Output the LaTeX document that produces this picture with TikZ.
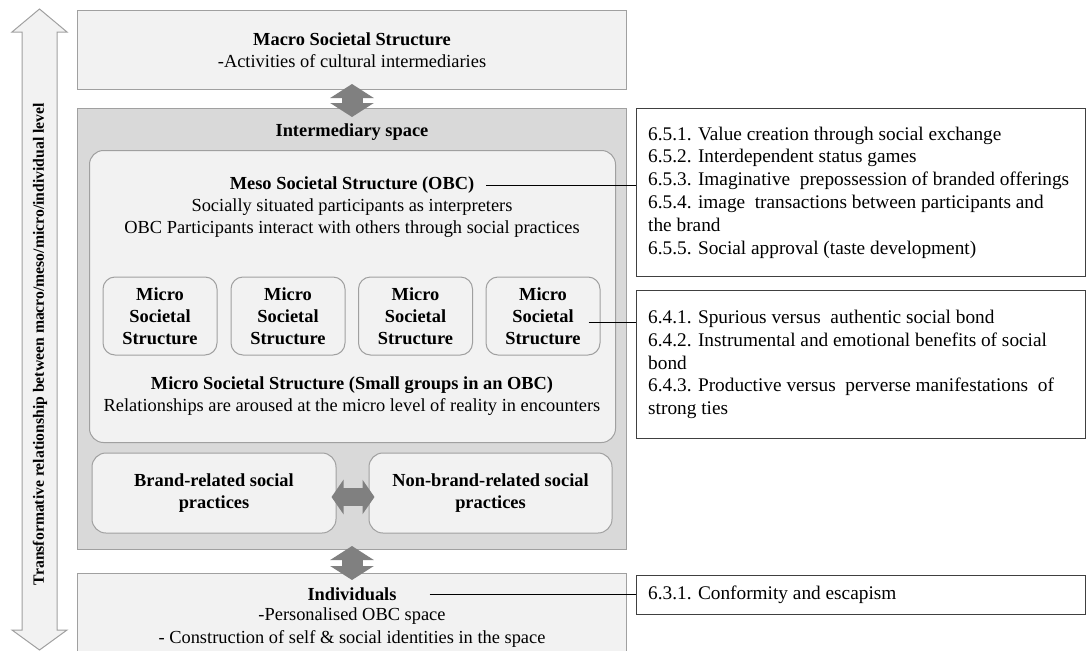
\documentclass[tikz,border=0pt]{standalone}
\usepackage{fontspec}
\setmainfont{Liberation Serif}
\usetikzlibrary{arrows.meta,calc}
\definecolor{lightfill}{HTML}{F2F2F2}
\definecolor{midfill}{HTML}{D9D9D9}
\definecolor{edgegray}{HTML}{A0A0A0}
\definecolor{arrowgray}{HTML}{808080}
\definecolor{darkedge}{HTML}{404040}
\begin{document}
\begin{tikzpicture}[x=1pt,y=-1pt,
  txt/.style={font=\fontsize{18.4}{22.3}\selectfont, align=center, inner sep=0},
  rtext/.style={font=\fontsize{19.3}{22.8}\selectfont, align=left, inner sep=0},
  panel/.style={draw=edgegray, fill=lightfill, line width=1pt, inner sep=0},
  roundpanel/.style={panel, rounded corners=14pt},
  microbox/.style={roundpanel, rounded corners=12pt, minimum width=114, minimum height=78, txt, font=\fontsize{18.4}{22}\selectfont\bfseries},
  rbox/.style={draw=darkedge, fill=white, line width=1pt, inner sep=0, anchor=north west, minimum width=449},
  blockv/.style={draw=arrowgray, fill=arrowgray, line width=21pt, {Triangle[length=14pt,width=43pt]}-{Triangle[length=14pt,width=43pt]}},
  blockh/.style={draw=arrowgray, fill=arrowgray, line width=18pt, {Triangle[length=12pt,width=34pt]}-{Triangle[length=12pt,width=34pt]}},
  conn/.style={draw=black, line width=1pt}]
\useasboundingbox (0,0) rectangle (1088,651);

% left double arrow
\draw[draw=edgegray, fill=lightfill, line width=1pt]
  (39.5,9) -- (67,32) -- (57,32) -- (57,630) -- (67,630) -- (39.5,650)
  -- (12,630) -- (22,630) -- (22,32) -- (12,32) -- cycle;
\node[rotate=90, font=\fontsize{15.7}{18}\selectfont\bfseries, inner sep=0] (side) at (40,344)
  {Transformative relationship between macro/meso/micro/individual level};

% macro box
\node[panel, minimum width=549, minimum height=79, anchor=north west, txt] (macro) at (77,10)
  {\textbf{Macro Societal Structure}\\-Activities of cultural intermediaries};

% intermediary space
\node[panel, fill=midfill, minimum width=549, minimum height=441, anchor=north west] (inter) at (77,108) {};
\node[txt] (intert) at (352,132) {\textbf{Intermediary space}};

% OBC box
\node[roundpanel, minimum width=526, minimum height=292, anchor=north west] (obc) at (89,150) {};
\node[txt] (mesot) at (352,185) {\textbf{Meso Societal Structure (OBC)}};
\node[txt] (mesob) at (352,218) {Socially situated participants as interpreters\\OBC Participants interact with others through social practices};

% micro boxes
\node[microbox] (m1) at (160,316) {Micro\\Societal\\Structure};
\node[microbox] (m2) at (288,316) {Micro\\Societal\\Structure};
\node[microbox] (m3) at (415.5,316) {Micro\\Societal\\Structure};
\node[microbox] (m4) at (543,316) {Micro\\Societal\\Structure};

\node[txt] (microt) at (352,396) {\textbf{Micro Societal Structure (Small groups in an OBC)}\\Relationships are aroused at the micro level of reality in encounters};

% practices
\node[roundpanel, minimum width=244, minimum height=80, txt] (brand) at (214,493)
  {\textbf{Brand-related social}\\\textbf{practices}};
\node[roundpanel, minimum width=243, minimum height=80, txt] (nonbrand) at (490.5,493)
  {\textbf{Non-brand-related social}\\\textbf{practices}};
\draw[blockh, shorten <=-5pt, shorten >=-6pt] ([yshift=-4pt]brand.east) -- ([yshift=-4pt]nonbrand.west);

% individuals
\node[panel, minimum width=549, minimum height=90, anchor=north west] (indiv) at (77,573) {};
\node[txt] (indt) at (352,594) {\textbf{Individuals}};
\node[txt] (indb) at (352,627.5) {-Personalised OBC space\\- Construction of self \& social identities in the space};

% vertical block arrows
\draw[blockv, shorten <=-6pt, shorten >=-9pt] (macro.south) -- (inter.north);
\draw[blockv, shorten <=-4pt, shorten >=-7pt] (inter.south) -- (indiv.north);

% right boxes
\node[rbox, minimum height=168] (boxA) at (636,108) {};
\node[rtext, anchor=west] (textA) at ([xshift=12pt]boxA.west)
  {6.5.1. Value creation through social exchange\\
   6.5.2. Interdependent status games\\
   6.5.3. Imaginative\ \ prepossession of branded offerings\\
   6.5.4. image\ \ transactions between participants and\\
   the brand\\
   6.5.5. Social approval (taste development)};

\node[rbox, minimum height=148] (boxB) at (636,290) {};
\node[rtext, anchor=west] (textB) at ([xshift=12pt]boxB.west)
  {6.4.1. Spurious versus\ \ authentic social bond\\
   6.4.2. Instrumental and emotional benefits of social\\
   bond\\
   6.4.3. Productive versus\ \ perverse manifestations\ \ of\\
   strong ties};

\node[rbox, minimum height=39] (boxC) at (636,575) {};
\node[rtext, anchor=west] (textC) at ([xshift=12pt]boxC.west) {6.3.1. Conformity and escapism};

% connectors
\draw[conn] ([xshift=12pt]mesot.east) -- (mesot.east -| boxA.west);
\coordinate (c4) at ([xshift=-12pt,yshift=-6pt]m4.east);
\draw[conn] (c4) -- (c4 -| boxB.west);
\draw[conn] ([xshift=33pt]indt.east) -- (indt.east -| boxC.west);
\end{tikzpicture}
\end{document}
